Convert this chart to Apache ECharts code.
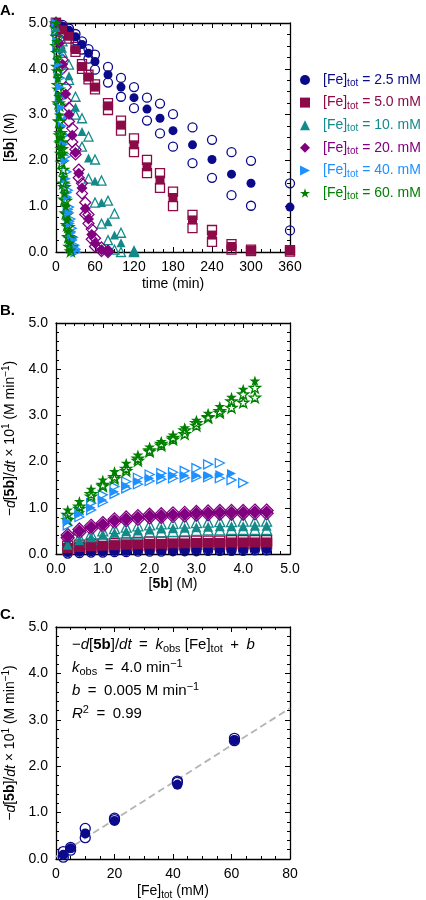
<!DOCTYPE html>
<html><head><meta charset="utf-8">
<script src="https://cdn.jsdelivr.net/npm/echarts@6/dist/echarts.min.js"></script>
<style>html,body{margin:0;padding:0;background:#fff}#c{width:426px;height:900px}</style>
</head><body><div id="c"></div>
<script>
// ---------------- DATA ----------------
const feLevels = ['2.5', '5.0', '10.', '20.', '40.', '60.'];

// Panel A: [5b] (M) vs time (min); filled = replicate 1, open = replicates 2 & 3
const tA_2p5 = [0, 10, 20, 30, 40, 50, 60, 80, 100, 120, 140, 160, 180, 210, 240, 270, 300, 360];
const A_2p5_fill = [5.0, 4.93, 4.84, 4.70, 4.53, 4.34, 4.16, 3.87, 3.60, 3.37, 3.12, 2.92, 2.65, 2.34, 2.02, 1.70, 1.50, 0.98];
const A_2p5_hi = [5.0, 4.96, 4.88, 4.76, 4.60, 4.43, 4.31, 4.04, 3.80, 3.60, 3.37, 3.24, 3.01, 2.72, 2.45, 2.18, 1.99, 1.50];
const A_2p5_lo = [5.0, 4.90, 4.78, 4.62, 4.42, 4.22, 3.98, 3.70, 3.39, 3.14, 2.87, 2.59, 2.30, 1.94, 1.62, 1.24, 1.01, 0.47];

const tA_5 = [0, 10, 20, 30, 40, 50, 60, 80, 100, 120, 140, 160, 180, 210, 240, 270, 300, 360];
const A_5_fill = [5.0, 4.85, 4.71, 4.42, 4.05, 3.82, 3.60, 3.19, 2.77, 2.34, 1.86, 1.57, 1.19, 0.70, 0.37, 0.12, 0.04, 0.03];
const A_5_hi = [5.0, 4.90, 4.76, 4.48, 4.10, 3.87, 3.66, 3.25, 2.87, 2.48, 2.01, 1.72, 1.32, 0.81, 0.48, 0.17, 0.05, 0.04];
const A_5_lo = [5.0, 4.80, 4.66, 4.37, 4.00, 3.77, 3.55, 3.10, 2.65, 2.18, 1.72, 1.40, 1.00, 0.52, 0.22, 0.05, 0.02, 0.01];

const tA_10 = [0, 10, 20, 30, 40, 50, 60, 70, 80, 90, 100, 120];
const A_10_fill = [4.90, 4.45, 3.85, 3.16, 2.63, 2.05, 1.55, 1.08, 0.66, 0.37, 0.20, 0.00];
const A_10_hi = [5.00, 4.60, 4.09, 3.39, 2.92, 2.52, 2.02, 1.56, 1.12, 0.84, 0.42, 0.02];
const A_10_lo = [4.85, 4.35, 3.76, 3.00, 2.30, 1.60, 1.08, 0.62, 0.26, 0.05, 0.00, 0.00];

const tA_20 = [0, 5, 10, 15, 20, 25, 30, 35, 40, 45, 50, 55, 60, 70, 80];
const A_20_fill = [5.0, 4.56, 4.10, 3.45, 3.00, 2.55, 2.17, 1.72, 1.40, 0.95, 0.72, 0.38, 0.19, 0.05, 0.02];
const A_20_hi = [5.0, 4.65, 4.20, 3.60, 3.15, 2.70, 2.24, 1.80, 1.50, 1.08, 0.82, 0.50, 0.30, 0.10, 0.03];
const A_20_lo = [4.95, 4.45, 4.00, 3.30, 2.85, 2.40, 2.13, 1.62, 1.28, 0.82, 0.62, 0.28, 0.12, 0.02, 0.00];

const tA_40 = [0, 2, 4, 6, 8, 10, 12, 14, 16, 18, 20, 22, 24, 26, 28, 30];
const A_40_fill = [5.0, 4.6, 4.1, 3.6, 3.15, 2.75, 2.35, 2.0, 1.6, 1.2, 0.85, 0.62, 0.42, 0.25, 0.10, 0.03];
const A_40_hi = [5.0, 4.7, 4.3, 3.8, 3.35, 2.95, 2.55, 2.08, 1.75, 1.35, 0.98, 0.72, 0.52, 0.32, 0.15, 0.06];
const A_40_lo = [4.9, 4.5, 3.9, 3.4, 2.95, 2.55, 2.15, 1.50, 1.30, 0.93, 0.67, 0.45, 0.28, 0.12, 0.04, 0.00];

const tA_60 = [0, 1, 2, 3, 4, 5, 6, 7, 8, 9, 11, 13, 15, 17, 19, 21, 23];
const A_60_fill = [5.0, 4.6, 4.2, 3.8, 3.4, 3.0, 2.7, 2.5, 2.3, 2.12, 1.64, 1.28, 1.00, 0.70, 0.45, 0.20, 0.05];
const A_60_hi = [5.0, 4.7, 4.35, 3.95, 3.55, 3.2, 2.85, 2.6, 2.4, 2.25, 1.80, 1.42, 1.12, 0.82, 0.55, 0.30, 0.10];
const A_60_lo = [4.9, 4.5, 4.05, 3.65, 3.25, 2.85, 2.55, 2.37, 2.15, 1.95, 1.50, 1.15, 0.85, 0.59, 0.33, 0.12, 0.02];

// Panel B: rate x10 (M/min) vs [5b] (M)
const xB = [0.25, 0.5, 0.75, 1.0, 1.25, 1.5, 1.75, 2.0, 2.25, 2.5, 2.75, 3.0, 3.25, 3.5, 3.75, 4.0, 4.25, 4.5];
const B_2p5_fill = [0.03, 0.04, 0.05, 0.05, 0.06, 0.06, 0.07, 0.07, 0.07, 0.08, 0.08, 0.08, 0.09, 0.09, 0.09, 0.09, 0.10, 0.10];
const B_2p5_hi = [0.05, 0.06, 0.07, 0.07, 0.08, 0.08, 0.09, 0.09, 0.09, 0.10, 0.10, 0.10, 0.11, 0.11, 0.11, 0.11, 0.12, 0.12];
const B_2p5_lo = [0.01, 0.02, 0.03, 0.03, 0.04, 0.04, 0.05, 0.05, 0.05, 0.06, 0.06, 0.06, 0.07, 0.07, 0.07, 0.07, 0.08, 0.08];
const B_5_fill = [0.13, 0.15, 0.17, 0.18, 0.19, 0.20, 0.21, 0.22, 0.22, 0.23, 0.23, 0.24, 0.24, 0.24, 0.25, 0.25, 0.25, 0.25];
const B_5_hi = [0.17, 0.19, 0.21, 0.22, 0.23, 0.24, 0.25, 0.26, 0.26, 0.27, 0.27, 0.28, 0.28, 0.28, 0.29, 0.29, 0.29, 0.29];
const B_5_lo = [0.10, 0.12, 0.14, 0.15, 0.16, 0.17, 0.18, 0.19, 0.19, 0.20, 0.20, 0.21, 0.21, 0.21, 0.22, 0.22, 0.22, 0.22];
const B_10_fill = [0.20, 0.30, 0.36, 0.42, 0.46, 0.49, 0.51, 0.53, 0.55, 0.56, 0.57, 0.58, 0.59, 0.60, 0.60, 0.60, 0.61, 0.61];
const B_10_hi = [0.26, 0.36, 0.44, 0.50, 0.55, 0.58, 0.61, 0.63, 0.65, 0.66, 0.67, 0.68, 0.69, 0.70, 0.70, 0.71, 0.71, 0.71];
const B_10_lo = [0.15, 0.26, 0.32, 0.37, 0.41, 0.43, 0.45, 0.47, 0.48, 0.49, 0.50, 0.51, 0.52, 0.52, 0.53, 0.53, 0.53, 0.53];
const B_20_fill = [0.38, 0.50, 0.58, 0.64, 0.72, 0.76, 0.79, 0.82, 0.83, 0.85, 0.86, 0.88, 0.89, 0.90, 0.90, 0.90, 0.91, 0.91];
const B_20_hi = [0.41, 0.53, 0.61, 0.67, 0.75, 0.79, 0.82, 0.85, 0.86, 0.88, 0.89, 0.91, 0.92, 0.93, 0.93, 0.93, 0.94, 0.94];
const B_20_lo = [0.35, 0.47, 0.55, 0.61, 0.69, 0.73, 0.76, 0.79, 0.80, 0.82, 0.83, 0.85, 0.86, 0.87, 0.87, 0.87, 0.88, 0.88];
const xB_40 = [0.25, 0.5, 0.75, 1.0, 1.25, 1.5, 1.75, 2.0, 2.25, 2.5, 2.75, 3.0, 3.25, 3.5, 3.75, 4.0];
const B_40_fill = [0.70, 0.86, 1.00, 1.17, 1.35, 1.47, 1.57, 1.64, 1.68, 1.70, 1.70, 1.70, 1.70, 1.72, 1.74];
const B_40_hi = [0.78, 0.92, 1.10, 1.28, 1.46, 1.57, 1.65, 1.72, 1.75, 1.77, 1.80, 1.86, 1.94, 1.97];
const B_40_lo = [0.62, 0.80, 0.95, 1.12, 1.30, 1.42, 1.51, 1.58, 1.62, 1.64, 1.65, 1.66, 1.66, 1.64, 1.60, 1.54];
const xB_60 = [0.25, 0.5, 0.75, 1.0, 1.25, 1.5, 1.75, 2.0, 2.25, 2.5, 2.75, 3.0, 3.25, 3.5, 3.75, 4.0, 4.25];
const B_60_fill = [0.96, 1.14, 1.41, 1.61, 1.79, 1.97, 2.15, 2.32, 2.44, 2.58, 2.74, 2.90, 3.05, 3.20, 3.40, 3.57, 3.75];
const B_60_hi = [0.85, 1.03, 1.30, 1.50, 1.67, 1.85, 2.07, 2.25, 2.39, 2.52, 2.68, 2.84, 2.97, 3.10, 3.31, 3.46, 3.60];
const B_60_lo = [0.74, 0.98, 1.25, 1.47, 1.63, 1.80, 2.02, 2.22, 2.35, 2.48, 2.60, 2.78, 2.95, 3.06, 3.17, 3.28, 3.39];

// Panel C: initial rate x10 vs [Fe]tot (mM)
const C_fe_fill = [2.5, 5, 10, 20, 41.5, 61];
const C_rate_fill = [0.09, 0.23, 0.55, 0.82, 1.60, 2.56];
const C_fe_open = [2.5, 2.5, 5, 5, 10, 10, 20, 20, 41.5, 41.5, 61, 61];
const C_rate_open = [0.16, 0.04, 0.25, 0.19, 0.66, 0.46, 0.88, 0.85, 1.68, 1.65, 2.60, 2.55];
const kobs = 4.0;      // min^-1
const bFit = 0.005;    // M min^-1
const fitRange = [0, 80];

// ---------------- STYLE ----------------
const FONT = 'Liberation Sans';
const colors = ['#0a0a8a', '#8b0a47', '#138a8a', '#800080', '#1e90ff', '#008000'];
const STAR = 'path://M50,2 L61.8,37.6 L99,37.6 L69,59.6 L80.4,95 L50,73 L19.6,95 L31,59.6 L1,37.6 L38.2,37.6 Z';
const RTRI = 'path://M0,0 L100,50 L0,100 Z';
const symbols = ['circle', 'rect', 'triangle', 'diamond', RTRI, STAR];
const sizesA = [9, 9, 9, 11, 9, 11];
const sizesB = [9, 10, 10, 13, 9, 11];
const legendNames = feLevels.map(f => '[Fe]tot = ' + f + ' mM');

function sc(name, xs, ys, p, sym, size, color, open, z) {
  return {
    type: 'scatter', name: name, xAxisIndex: 2 * p, yAxisIndex: 2 * p,
    symbol: sym, symbolSize: size, z: z || 2, symbolKeepAspect: true,
    data: ys.map((y, i) => [xs[i], y]),
    itemStyle: open ? { color: 'rgba(255,255,255,0)', borderColor: color, borderWidth: 1.3, opacity: 1 }
                    : { color: color, borderWidth: 0, opacity: 1 },
    emphasis: { disabled: true }, silent: true, animation: false
  };
}

function axis(o) {
  return {
    type: 'value', gridIndex: o.g, position: o.pos, min: o.min, max: o.max, interval: o.iv,
    axisLine: { show: true, onZero: false, lineStyle: { color: '#000', width: 1.3 } },
    axisTick: { show: true, inside: true, length: 5, lineStyle: { color: '#000', width: 1 } },
    minorTick: { show: true, splitNumber: o.ms, length: 3, lineStyle: { color: '#000', width: 1 } },
    splitLine: { show: false }, minorSplitLine: { show: false },
    axisLabel: { show: !!o.fmt, formatter: o.fmt, color: '#000', fontFamily: FONT, fontSize: 14, margin: o.margin || 8 },
    name: o.name || '', nameLocation: 'middle', nameGap: o.gap || 0,
    nameTextStyle: { fontFamily: FONT, fontSize: 14, color: '#000', rich: o.rich || {} }
  };
}

const richBase = {
  n: { fontFamily: FONT, fontSize: 14, color: '#000' },
  i: { fontFamily: FONT, fontSize: 14, fontStyle: 'italic', color: '#000' },
  b: { fontFamily: FONT, fontSize: 14, fontWeight: 'bold', color: '#000' },
  sub: { fontFamily: FONT, fontSize: 10, color: '#000', padding: [7, 0, 0, 0] },
  sup: { fontFamily: FONT, fontSize: 10, color: '#000', padding: [0, 0, 8, 0] }
};
const f1 = v => v.toFixed(1);
const f0 = v => String(Math.round(v));
const rateName = '{n|\u2212}{i|d}{n|[}{b|5b}{n|]/}{i|dt}{n| \u00d7 10}{sup|1}{n| (M min}{sup|\u22121}{n|)}';

const xAxes = [
  axis({ g: 0, pos: 'bottom', min: 0, max: 360, iv: 60, ms: 4, fmt: f0, name: 'time (min)', gap: 25 }),
  axis({ g: 0, pos: 'top', min: 0, max: 360, iv: 60, ms: 4 }),
  axis({ g: 1, pos: 'bottom', min: 0, max: 5, iv: 1, ms: 5, fmt: f1, name: '{n|[}{b|5b}{n|] (M)}', gap: 23, rich: richBase }),
  axis({ g: 1, pos: 'top', min: 0, max: 5, iv: 1, ms: 5 }),
  axis({ g: 2, pos: 'bottom', min: 0, max: 80, iv: 20, ms: 4, fmt: f0, name: '{n|[Fe]}{sub|tot}{n| (mM)}', gap: 24, rich: richBase }),
  axis({ g: 2, pos: 'top', min: 0, max: 80, iv: 20, ms: 4 })
];
const yAxes = [
  axis({ g: 0, pos: 'left', min: 0, max: 5, iv: 1, ms: 4, fmt: f1, name: '{n|[}{b|5b}{n|] (M)}', gap: 28, rich: richBase }),
  axis({ g: 0, pos: 'right', min: 0, max: 5, iv: 1, ms: 4 }),
  axis({ g: 1, pos: 'left', min: 0, max: 5, iv: 1, ms: 5, fmt: f1, name: rateName, gap: 28, rich: richBase }),
  axis({ g: 1, pos: 'right', min: 0, max: 5, iv: 1, ms: 5 }),
  axis({ g: 2, pos: 'left', min: 0, max: 5, iv: 1, ms: 5, fmt: f1, name: rateName, gap: 28, rich: richBase }),
  axis({ g: 2, pos: 'right', min: 0, max: 5, iv: 1, ms: 5 })
];

const Adata = [
  [tA_2p5, A_2p5_fill, A_2p5_hi, A_2p5_lo],
  [tA_5, A_5_fill, A_5_hi, A_5_lo],
  [tA_10, A_10_fill, A_10_hi, A_10_lo],
  [tA_20, A_20_fill, A_20_hi, A_20_lo],
  [tA_40, A_40_fill, A_40_hi, A_40_lo],
  [tA_60, A_60_fill, A_60_hi, A_60_lo]
];
const Bdata = [
  [xB, B_2p5_fill, B_2p5_hi, B_2p5_lo],
  [xB, B_5_fill, B_5_hi, B_5_lo],
  [xB, B_10_fill, B_10_hi, B_10_lo],
  [xB, B_20_fill, B_20_hi, B_20_lo],
  [xB_40, B_40_fill, B_40_hi, B_40_lo],
  [xB_60, B_60_fill, B_60_hi, B_60_lo]
];

const series = [];
Adata.forEach((d, k) => {
  series.push(sc('Aopen1_' + k, d[0], d[2], 0, symbols[k], sizesA[k], colors[k], true, 2));
  series.push(sc('Aopen2_' + k, d[0], d[3], 0, symbols[k], sizesA[k], colors[k], true, 2));
  series.push(sc(legendNames[k], d[0], d[1], 0, symbols[k], sizesA[k], colors[k], false, 3));
});
Bdata.forEach((d, k) => {
  series.push(sc('Bopen1_' + k, d[0], d[2], 1, symbols[k], sizesB[k], colors[k], true, 2));
  series.push(sc('Bopen2_' + k, d[0], d[3], 1, symbols[k], sizesB[k], colors[k], true, 2));
  series.push(sc('Bfill_' + k, d[0], d[1], 1, symbols[k], sizesB[k], colors[k], false, 3));
});
series.push({
  type: 'line', xAxisIndex: 4, yAxisIndex: 4, symbol: 'none', silent: true, animation: false, z: 1,
  data: fitRange.map(x => [x, (kobs * x / 1000 + bFit) * 10]),
  lineStyle: { color: '#b4b4b4', width: 1.8, type: [7, 4] }
});
series.push(sc('Copen', C_fe_open, C_rate_open, 2, 'circle', 10, colors[0], true, 2));
series.push(sc('Cfill', C_fe_fill, C_rate_fill, 2, 'circle', 10, colors[0], false, 3));

const legendRich = {};
colors.forEach((c, i) => {
  legendRich['p' + i] = { fontFamily: FONT, fontSize: 14, color: c, lineHeight: 16, padding: [0, 0, 0, 8] };
  legendRich['a' + i] = { fontFamily: FONT, fontSize: 14, color: c, lineHeight: 16 };
  legendRich['s' + i] = { fontFamily: FONT, fontSize: 10, color: c, lineHeight: 10, padding: [7, 0, 0, 0] };
});

const EQ = '\u2002=\u2002', PLUS = '\u2002+\u2002';
const fitText = [
  '{n|\u2212}{i|d}{n|[}{b|5b}{n|]/}{i|dt}{n|' + EQ + '}{i|k}{sub|obs}{n| [Fe]}{sub|tot}{n|' + PLUS + '}{i|b}',
  '{i|k}{sub|obs}{n|' + EQ + '4.0 min}{sup|\u22121}',
  '{i|b}{n|' + EQ + '0.005 M min}{sup|\u22121}',
  '{i|R}{sup|2}{n|' + EQ + '0.99}'
].join('\n');
const richFit = {};
Object.keys(richBase).forEach(k => {
  richFit[k] = Object.assign({}, richBase[k], { lineHeight: 23, fontSize: k === 'sub' || k === 'sup' ? 11 : 15 });
});
richFit.sub.lineHeight = 12; richFit.sup.lineHeight = 12;

const chart = echarts.init(document.getElementById('c'), null, { renderer: 'canvas' });
chart.setOption({
  animation: false,
  backgroundColor: '#fff',
  grid: [
    { left: 56, top: 23, width: 234, height: 229, outerBoundsMode: 'none' },
    { left: 56, top: 323, width: 234, height: 231, outerBoundsMode: 'none' },
    { left: 56, top: 627, width: 234, height: 232, outerBoundsMode: 'none' }
  ],
  xAxis: xAxes,
  yAxis: yAxes,
  legend: {
    data: legendNames, orient: 'vertical', left: 300, top: 71.5, padding: 0,
    itemWidth: 10, itemHeight: 10, itemGap: 5.6, selectedMode: false, symbolKeepAspect: true,
    formatter: name => {
      const i = legendNames.indexOf(name);
      return '{p' + i + '|[Fe]}{s' + i + '|tot}{a' + i + '| = ' + feLevels[i] + ' mM}';
    },
    textStyle: { rich: legendRich, fontFamily: FONT, fontSize: 14 }
  },
  graphic: [
    { type: 'text', left: 0, top: 3, style: { text: 'A.', font: 'bold 15px "Liberation Sans"', fill: '#000' } },
    { type: 'text', left: 0, top: 303, style: { text: 'B.', font: 'bold 15px "Liberation Sans"', fill: '#000' } },
    { type: 'text', left: 0, top: 607, style: { text: 'C.', font: 'bold 15px "Liberation Sans"', fill: '#000' } },
    { type: 'text', left: 72, top: 636, style: { text: fitText, rich: richFit, fill: '#000' } }
  ],
  series: series
});
</script>
</body></html>
